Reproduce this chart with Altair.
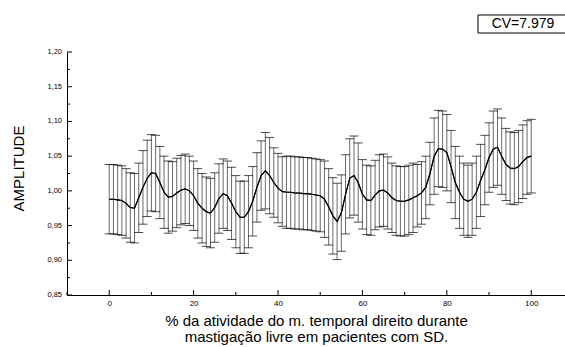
import altair as alt
import pandas as pd

# percent of activity (x) 0..100
pct = list(range(0, 101))

mean_amp = [
    0.988, 0.988, 0.987, 0.986, 0.982, 0.976, 0.975, 0.990, 1.005, 1.018,
    1.026, 1.025, 1.012, 0.998, 0.991, 0.992, 0.997, 1.001, 1.003, 1.000,
    0.993, 0.982, 0.975, 0.970, 0.968, 0.976, 0.989, 0.996, 0.993, 0.982,
    0.970, 0.962, 0.962, 0.970, 0.985, 1.005, 1.022, 1.029, 1.022, 1.012,
    1.004, 0.999, 0.998, 0.998, 0.997, 0.997, 0.996, 0.996, 0.995, 0.994,
    0.993, 0.988, 0.977, 0.964, 0.956, 0.968, 0.995, 1.018, 1.022, 1.012,
    0.995, 0.987, 0.986, 0.994, 1.000, 1.001, 0.997, 0.990, 0.986, 0.985,
    0.985, 0.987, 0.990, 0.993, 0.997, 1.005, 1.025, 1.050, 1.061, 1.060,
    1.055, 1.035, 1.012, 0.998, 0.988, 0.985, 0.988, 0.998, 1.015, 1.030,
    1.048, 1.060, 1.063, 1.050, 1.038, 1.033, 1.032, 1.035, 1.042, 1.048,
    1.050,
]

sd_amp = [
    0.050, 0.050, 0.050, 0.050, 0.050, 0.050, 0.050, 0.050, 0.053, 0.055,
    0.055, 0.055, 0.052, 0.052, 0.052, 0.050, 0.050, 0.050, 0.050, 0.050,
    0.050, 0.050, 0.050, 0.050, 0.050, 0.050, 0.050, 0.050, 0.050, 0.052,
    0.052, 0.052, 0.052, 0.052, 0.050, 0.050, 0.050, 0.055, 0.055, 0.050,
    0.050, 0.050, 0.052, 0.052, 0.052, 0.052, 0.052, 0.052, 0.052, 0.052,
    0.052, 0.055, 0.055, 0.055, 0.055, 0.055, 0.057, 0.057, 0.057, 0.057,
    0.050, 0.050, 0.050, 0.050, 0.052, 0.052, 0.052, 0.050, 0.050, 0.050,
    0.050, 0.050, 0.050, 0.045, 0.045, 0.045, 0.045, 0.055, 0.055, 0.055,
    0.055, 0.052, 0.052, 0.052, 0.052, 0.052, 0.052, 0.052, 0.052, 0.050,
    0.050, 0.055, 0.055, 0.055, 0.052, 0.052, 0.052, 0.052, 0.053, 0.053,
    0.053,
]

y_major = [0.85, 0.90, 0.95, 1.00, 1.05, 1.10, 1.15, 1.20]
y_labels = ["0,85", "0,90", "0,95", "1,00", "1,05", "1,10", "1,15", "1,20"]
y_minor = [0.875, 0.925, 0.975, 1.025, 1.075, 1.125, 1.175]
x_major = [0, 20, 40, 60, 80, 100]
x_minor = [-10, 10, 30, 50, 70, 90]

x_title = ["% da atividade do m. temporal direito durante",
           "mastigação livre em pacientes com SD."]
y_title = "AMPLITUDE"
cv_text = "CV=7.979"

df = pd.DataFrame({"x": pct, "mean": mean_amp, "sd": sd_amp})
df["lo"] = df["mean"] - df["sd"]
df["hi"] = df["mean"] + df["sd"]

W, H = 498, 243
FONT = "Liberation Sans"

xscale = alt.Scale(domain=[-10, 108], nice=False, zero=False)
yscale = alt.Scale(domain=[0.85, 1.20], nice=False, zero=False)

base = alt.Chart(df)

mean_line = base.mark_line(color="black", strokeWidth=1.1).encode(
    x=alt.X("x:Q", scale=xscale,
            axis=alt.Axis(values=x_major, title=x_title,
                          labelFontSize=8, labelPadding=4,
                          titleFontSize=15, titlePadding=6, titleLineHeight=16)),
    y=alt.Y("mean:Q", scale=yscale,
            axis=alt.Axis(title=y_title, labels=False, ticks=False,
                          titleFontSize=15, titleX=-41, titleY=116)),
)

# y tick labels drawn as text at the tick values
ylab = alt.Chart(pd.DataFrame({"v": y_major, "lab": y_labels})).mark_text(
    font=FONT, fontSize=7.5, color="black", align="right", baseline="middle").encode(
    y=alt.Y("v:Q", scale=yscale), x=alt.value(-5), text="lab:N")

bars = base.mark_rule(color="#444444", strokeWidth=0.8).encode(
    x=alt.X("x:Q", scale=xscale),
    y=alt.Y("lo:Q", scale=yscale),
    y2="hi:Q",
)

cap_hi = base.mark_tick(color="black", orient="horizontal", size=9, thickness=1).encode(
    x=alt.X("x:Q", scale=xscale),
    y=alt.Y("hi:Q", scale=yscale),
)
cap_lo = base.mark_tick(color="black", orient="horizontal", size=9, thickness=1).encode(
    x=alt.X("x:Q", scale=xscale),
    y=alt.Y("lo:Q", scale=yscale),
)

ymaj = alt.Chart(pd.DataFrame({"v": y_major})).mark_rule(color="black", strokeWidth=1).encode(
    y=alt.Y("v:Q", scale=yscale), x=alt.value(0), x2=alt.value(5))
ymin = alt.Chart(pd.DataFrame({"v": y_minor})).mark_rule(color="black", strokeWidth=1).encode(
    y=alt.Y("v:Q", scale=yscale), x=alt.value(0), x2=alt.value(3))
xmaj = alt.Chart(pd.DataFrame({"v": x_major})).mark_rule(color="black", strokeWidth=1).encode(
    x=alt.X("v:Q", scale=xscale), y=alt.value(H), y2=alt.value(H - 5))
xmin = alt.Chart(pd.DataFrame({"v": x_minor})).mark_rule(color="black", strokeWidth=1).encode(
    x=alt.X("v:Q", scale=xscale), y=alt.value(H), y2=alt.value(H - 3))

box = alt.Chart(alt.Data(values=[{"t": cv_text}])).mark_rect(
    fill="white", stroke="black", strokeWidth=1).encode(
    x=alt.value(411), x2=alt.value(510), y=alt.value(-37), y2=alt.value(-19))
cv = alt.Chart(alt.Data(values=[{"t": cv_text}])).mark_text(
    font=FONT, fontSize=14, color="black", align="center", baseline="middle").encode(
    text="t:N", x=alt.value(456), y=alt.value(-28))

chart = alt.layer(mean_line, bars, cap_hi, cap_lo, mean_line, ymaj, ymin, xmaj, xmin,
                  ylab, box, cv).properties(
    width=W, height=H,
    autosize=alt.AutoSizeParams(type="none"),
    padding={"left": 67, "top": 52, "right": 0, "bottom": 52},
    background="white",
).configure_view(stroke=None).configure_axis(
    grid=False, tickSize=0, domainColor="black", domainWidth=1,
    labelColor="black", labelFont=FONT, titleFont=FONT,
    titleColor="black", titleFontWeight="normal", labelOverlap=False,
)

chart.save("out.html", embed_options={"renderer": "svg", "actions": False})
